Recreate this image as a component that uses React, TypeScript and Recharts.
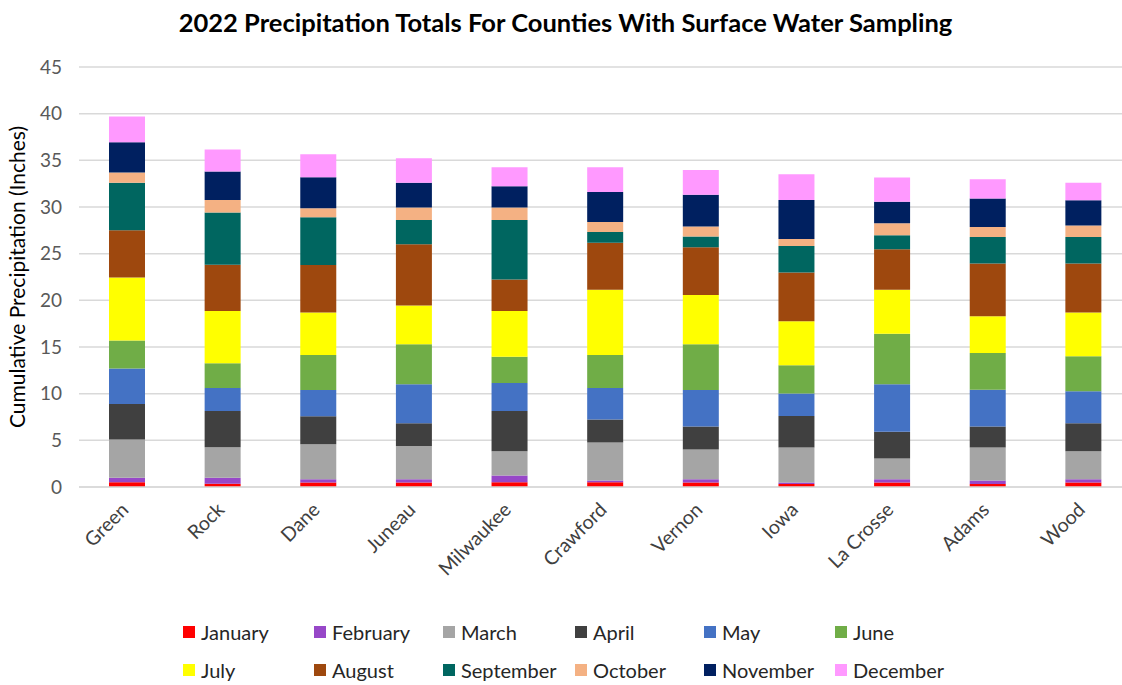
import React from "react";
import { Bar, BarChart, CartesianGrid, XAxis, YAxis } from "recharts";

const counties = ["Green", "Rock", "Dane", "Juneau", "Milwaukee", "Crawford", "Vernon", "Iowa", "La Crosse", "Adams", "Wood"];

const january = [0.5, 0.35, 0.47, 0.47, 0.5, 0.5, 0.47, 0.32, 0.47, 0.32, 0.47];
const february = [0.5, 0.65, 0.36, 0.36, 0.72, 0.19, 0.36, 0.15, 0.36, 0.37, 0.36];
const march = [4.1, 3.25, 3.76, 3.57, 2.61, 4.08, 3.19, 3.76, 2.22, 3.54, 3.0];
const april = [3.8, 3.9, 3.0, 2.44, 4.3, 2.47, 2.47, 3.37, 2.86, 2.26, 3.01];
const may = [3.8, 2.45, 2.8, 4.16, 3.01, 3.36, 3.9, 2.43, 5.09, 3.93, 3.41];
const june = [3.0, 2.65, 3.76, 4.3, 2.82, 3.55, 4.91, 3.01, 5.43, 3.94, 3.75];
const july = [6.75, 5.6, 4.54, 4.14, 4.91, 6.98, 5.26, 4.73, 4.7, 3.94, 4.69];
const august = [5.05, 4.95, 5.09, 6.56, 3.36, 5.05, 5.14, 5.22, 4.33, 5.65, 5.26];
const september = [5.1, 5.6, 5.13, 2.61, 6.38, 1.15, 1.14, 2.83, 1.5, 2.84, 2.84];
const october = [1.1, 1.35, 0.96, 1.33, 1.33, 1.07, 1.07, 0.75, 1.29, 1.07, 1.24];
const november = [3.25, 3.05, 3.33, 2.65, 2.28, 3.22, 3.41, 4.19, 2.3, 3.04, 2.69];
const december = [2.75, 2.35, 2.44, 2.64, 2.04, 2.64, 2.65, 2.75, 2.61, 2.08, 1.87];

const months = ["January", "February", "March", "April", "May", "June", "July", "August", "September", "October", "November", "December"];
const monthValues = [january, february, march, april, may, june, july, august, september, october, november, december];
const colors = ["#FF0000", "#9747C8", "#A5A5A5", "#404040", "#4472C4", "#70AD47", "#FFFF00", "#9E480E", "#006660", "#F4B183", "#002060", "#FF99FF"];

const yTicks = [0, 5, 10, 15, 20, 25, 30, 35, 40, 45];

const data = counties.map((county, i) => {
  const row: Record<string, string | number> = { county };
  months.forEach((m, j) => {
    row[m] = monthValues[j][i];
  });
  return row;
});

const font = "Lato, 'Open Sans', sans-serif";

const CountyTick = (props: any) => {
  const { x, y, payload } = props;
  return (
    <g transform={`translate(${x + 3},${y + 16})`}>
      <text transform="rotate(-45)" textAnchor="end" fontSize={19.5} fill="#404040" fontFamily={font}>
        {payload.value}
      </text>
    </g>
  );
};

// left edge of each legend column (squares)
const legendCols = [183, 314, 443, 575, 704, 835];

export default function App() {
  return (
    <div style={{ position: "absolute", left: 0, top: 0, width: 1122, height: 685, overflow: "hidden", background: "#fff", fontFamily: font }}>
      <div style={{ position: "absolute", left: 0, width: 1131, top: 7, textAlign: "center", fontWeight: 700, fontSize: 25.5, color: "#000" }}>
        2022 Precipitation Totals For Counties With Surface Water Sampling
      </div>
      <BarChart width={1140} height={685} data={data} margin={{ top: 67, right: 9, bottom: 138, left: 0 }}>
        <CartesianGrid vertical={false} stroke="#d9d9d9" strokeWidth={1.5} />
        <XAxis dataKey="county" height={60} axisLine={{ stroke: "#d9d9d9", strokeWidth: 1.5 }} tickLine={false} interval={0} tick={<CountyTick />} />
        <YAxis
          width={79}
          domain={[0, 45]}
          ticks={yTicks}
          axisLine={false}
          tickLine={false}
          tickSize={0}
          tickMargin={17}
          tick={{ fontSize: 19, fill: "#595959", fontFamily: font }}
          label={{ value: "Cumulative Precipitation (Inches)", angle: -90, position: "insideLeft", offset: 18, style: { textAnchor: "middle", fontSize: 21, fill: "#000", fontFamily: font } }}
        />
        {months.map((m, j) => (
          <Bar key={m} dataKey={m} stackId="a" fill={colors[j]} barSize={36} isAnimationActive={false} />
        ))}
      </BarChart>
      {months.map((m, j) => (
        <div
          key={m}
          style={{ position: "absolute", left: legendCols[j % 6], top: j < 6 ? 619 : 657, height: 26, display: "flex", alignItems: "center", fontSize: 20, color: "#262626", whiteSpace: "nowrap" }}
        >
          <span style={{ display: "inline-block", width: 12, height: 12, background: colors[j], marginRight: 6 }} />
          {m}
        </div>
      ))}
    </div>
  );
}
